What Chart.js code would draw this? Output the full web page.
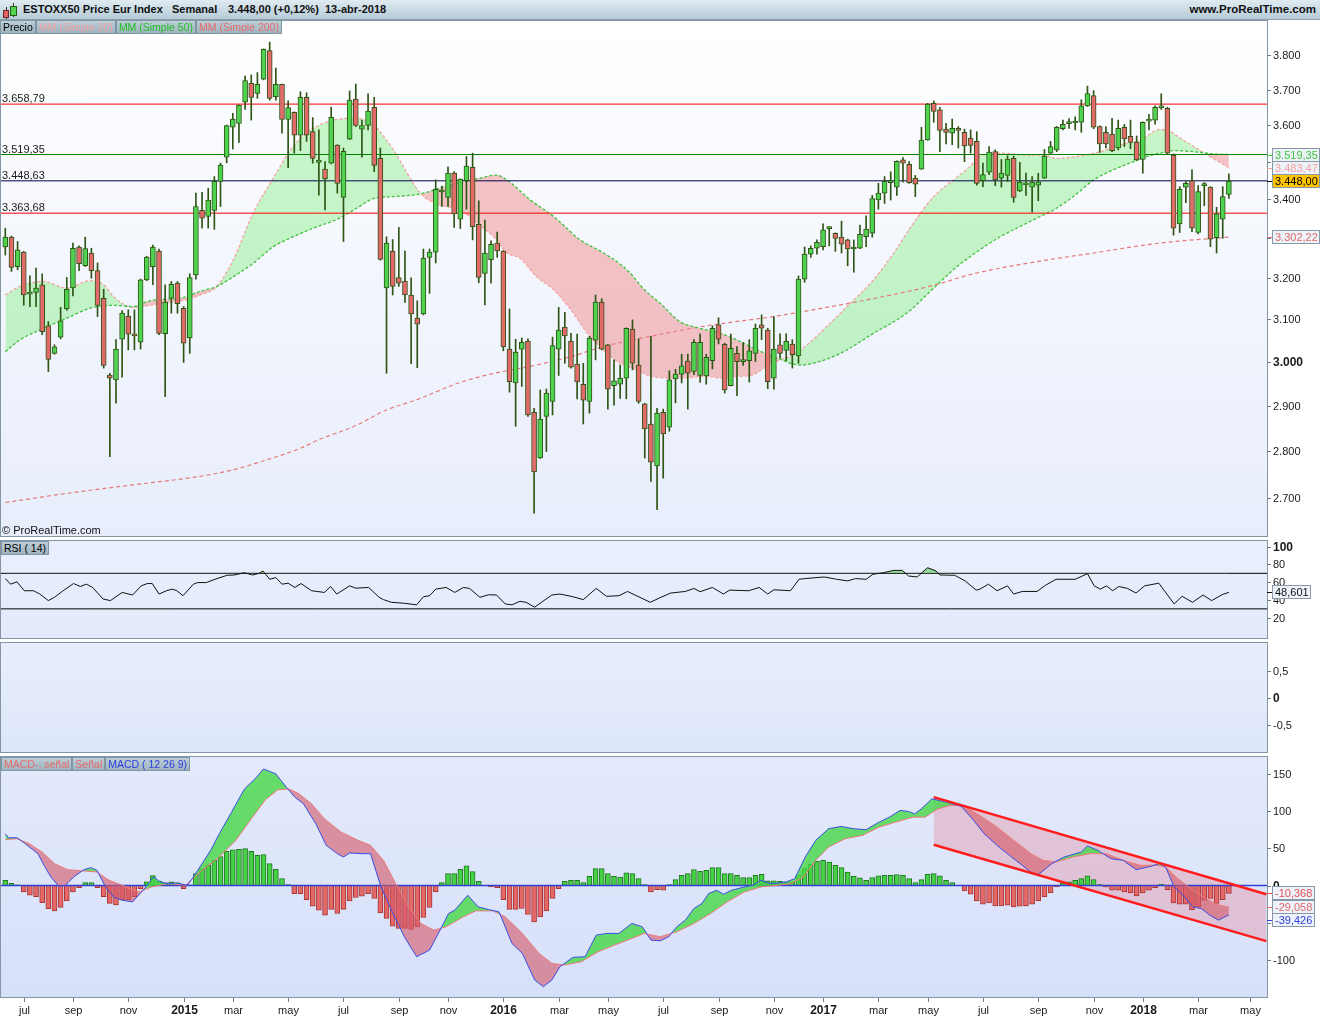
<!DOCTYPE html>
<html lang="es">
<head>
<meta charset="utf-8">
<title>ESTOXX50 semanal</title>
<script src="https://cdn.jsdelivr.net/npm/chart.js@4.4.1/dist/chart.umd.min.js"></script>
<style>
  html, body { margin: 0; padding: 0; background: #fff; }
  #page { position: relative; width: 1320px; height: 1020px; overflow: hidden; font-family: "Liberation Sans", Arial, sans-serif; }
  canvas { position: absolute; left: 0; }
  #titlebar { position: absolute; left: 0; top: 0; width: 1320px; height: 20px; box-sizing: border-box;
    background: linear-gradient(#e0ebf1, #b5cbd7); border-bottom: 1px solid #8b9ea9; }
  #titlebar span { position: absolute; top: 3px; font-size: 11px; font-weight: bold; color: #111; white-space: nowrap; }
  .row { position: absolute; left: 0; display: flex; z-index: 2; }
  .tag { height: 14px; line-height: 13px; font-size: 10.5px; padding: 0 2px; box-sizing: border-box;
    background: linear-gradient(#bdcfd8, #9db4c0); border: 1px solid #7f96a3; white-space: nowrap; }
  .ico { position: absolute; box-sizing: border-box; }
  #copy { position: absolute; left: 2px; top: 524px; font-size: 11px; color: #111; z-index: 2; }
</style>
</head>
<body>
<div id="page">
  <canvas id="main" width="1320" height="517" style="top:20px"></canvas>
  <canvas id="rsi" width="1320" height="99" style="top:540px"></canvas>
  <canvas id="blank" width="1320" height="111" style="top:642px"></canvas>
  <canvas id="macd" width="1320" height="264" style="top:756px"></canvas>

  <div id="titlebar">
    <div class="ico" style="left:6px;top:7px;width:1px;height:12px;background:#333"></div>
    <div class="ico" style="left:3px;top:10px;width:6px;height:8px;background:#e25f5f;border:1px solid #6b2a2a"></div>
    <div class="ico" style="left:13px;top:3px;width:1px;height:14px;background:#333"></div>
    <div class="ico" style="left:10px;top:6px;width:7px;height:10px;background:#52d352;border:1px solid #2b5a15"></div>
    <span style="left:23px">ESTOXX50 Price Eur Index</span>
    <span style="left:172px">Semanal</span>
    <span style="left:228px">3.448,00 (+0,12%)</span>
    <span style="left:325px">13-abr-2018</span>
    <span style="right:4px;font-size:11.5px">www.ProRealTime.com</span>
  </div>
  <div class="row" style="top:20px">
    <div class="tag" style="color:#000">Precio</div>
    <div class="tag" style="color:#f4a3a3">MM (Simple 20)</div>
    <div class="tag" style="color:#1fbf1f">MM (Simple 50)</div>
    <div class="tag" style="color:#e86a6a">MM (Simple 200)</div>
  </div>
  <div id="copy">© ProRealTime.com</div>
  <div class="row" style="top:541px;left:1px">
    <div class="tag" style="color:#000">RSI ( 14)</div>
  </div>
  <div class="row" style="top:757px;left:1px">
    <div class="tag" style="color:#e46a6a">MACD-, señal</div>
    <div class="tag" style="color:#e46a6a">Señal</div>
    <div class="tag" style="color:#2c3de0">MACD ( 12 26 9)</div>
  </div>
</div>

<script>
// ---- weekly candles, June 2014 .. 13 Apr 2018 (one entry per week)
const opens = [
  3277,3302,3228,3264,3160,3164,3183,3084,3019,3057, 3124,3175,3277,3230,3262,3218,3150,2969,2958,3052,
  3107,3062,3045,3195,3228,3267,3065,3150,3187,3126, 3055,3207,3371,3355,3371,3447,3512,3594,3605,3664,
  3718,3689,3730,3813,3680,3715,3616,3636,3572,3678, 3582,3498,3480,3496,3545,3405,3561,3673,3589,3599,
  3650,3509,3175,3267,3201,3192,3158,3102,3112,3251, 3264,3419,3405,3469,3348,3449,3485,3335,3211,3245,
  3287,3267,3029,2951,3029,3048,2885,2785,2876,2909, 3029,3081,3048,2994,2948,2909,3050,3141,3039,2945,
  2948,2962,3076,2992,2904,2859,2768,2885,2852,2960, 2971,3001,2977,2968,2967,3002,3086,3040,2945,3019,
  3000,3002,3019,3086,3074,2962,3039,3026,3041,3013, 3197,3259,3274,3278,3324,3312,3302,3295,3272,3274,
  3303,3312,3398,3416,3444,3432,3505,3493,3456,3480, 3559,3661,3643,3589,3578,3591,3580,3564,3555,3449,
  3472,3527,3456,3463,3509,3422,3438,3432,3437,3456, 3523,3532,3590,3604,3606,3608,3654,3683,3596,3580,
  3575,3537,3594,3569,3553,3506,3611,3614,3648,3647, 3518,3336,3432,3449,3314,3436,3432,3301,3348,3413
];
const highs = [
  3325,3305,3291,3266,3205,3224,3210,3094,3039,3128, 3201,3287,3280,3302,3274,3237,3172,2973,3051,3120,
  3122,3122,3197,3254,3282,3272,3183,3191,3191,3130, 3210,3416,3418,3429,3460,3496,3600,3633,3657,3739,
  3742,3749,3818,3838,3762,3716,3668,3637,3694,3691, 3621,3587,3500,3650,3546,3537,3696,3716,3614,3688,
  3678,3537,3303,3296,3327,3267,3200,3144,3272,3272, 3451,3435,3486,3473,3454,3514,3523,3396,3346,3293,
  3315,3268,3124,3052,3055,3053,2894,2935,2937,3057, 3128,3116,3066,3064,2996,3059,3158,3149,3040,3004,
  2992,3079,3098,3053,2905,3059,2894,2892,2979,2982, 3017,3017,3051,3065,3017,3084,3103,3043,3064,3035,
  3044,3051,3088,3110,3078,3106,3065,3065,3051,3205, 3277,3280,3295,3336,3329,3313,3343,3297,3295,3333,
  3357,3410,3442,3460,3473,3502,3511,3500,3463,3594, 3661,3668,3650,3605,3617,3596,3589,3587,3582,3496,
  3541,3532,3506,3516,3515,3498,3469,3460,3469,3533, 3555,3596,3614,3618,3623,3671,3710,3697,3598,3596,
  3619,3614,3602,3614,3570,3609,3630,3654,3688,3650, 3521,3433,3447,3478,3436,3444,3433,3379,3433,3467
];
const lows = [
  3257,3216,3220,3133,3130,3130,3063,2977,3017,3053, 3121,3156,3218,3228,3199,3106,2985,2788,2905,2964,
  3027,3027,3029,3193,3183,3063,2920,3114,3114,2998, 3019,3197,3325,3325,3322,3381,3497,3534,3552,3644,
  3614,3675,3728,3670,3670,3578,3484,3523,3530,3555, 3496,3411,3372,3494,3416,3291,3560,3596,3512,3587,
  3473,3244,2973,3158,3179,3140,2995,2986,3110,3162, 3237,3381,3381,3327,3324,3374,3295,3188,3134,3187,
  3251,3025,2930,2854,2943,2876,2669,2784,2799,2879, 2968,2996,2985,2915,2859,2883,3004,3027,2892,2901,
  2916,2915,2981,2905,2785,2735,2676,2742,2843,2906, 2951,2892,2970,2952,2948,2983,3041,2928,2944,2922,
  2991,2953,3000,3051,2938,2937,3008,3002,2985,2996, 3189,3251,3259,3270,3280,3266,3262,3230,3214,3273,
  3278,3302,3374,3389,3398,3410,3445,3442,3407,3479, 3558,3608,3527,3548,3546,3537,3500,3523,3437,3433,
  3465,3436,3432,3447,3392,3420,3410,3366,3396,3455, 3522,3527,3587,3591,3587,3580,3652,3590,3525,3537,
  3527,3532,3541,3535,3503,3469,3587,3603,3644,3521, 3307,3314,3391,3316,3310,3383,3278,3262,3299,3402
];
const closes = [
  3302,3226,3270,3158,3165,3175,3070,3005,3034,3096, 3172,3274,3235,3273,3218,3133,2991,2962,3029,3114,
  3064,3060,3195,3252,3277,3066,3141,3184,3137,3043, 3201,3381,3351,3398,3447,3491,3599,3617,3656,3726,
  3678,3715,3817,3675,3715,3616,3649,3572,3678,3572, 3509,3504,3454,3622,3442,3528,3670,3599,3599,3639,
  3490,3246,3287,3179,3187,3158,3112,3088,3249,3264, 3426,3420,3469,3362,3453,3488,3329,3201,3262,3284,
  3267,3034,2954,3022,3045,2879,2755,2870,2928,3037, 3074,3060,2987,2953,2912,3055,3141,3029,2937,2956,
  2962,3078,2996,2909,2848,2776,2883,2837,2958,2971, 2990,2973,3045,3045,3010,3078,3052,2935,3031,3000,
  3001,3025,3078,3078,2954,3029,3019,3047,3016,3197, 3259,3274,3289,3321,3326,3299,3284,3272,3274,3309,
  3323,3402,3416,3447,3445,3501,3496,3444,3440,3559, 3659,3638,3585,3580,3591,3585,3543,3544,3442,3465,
  3526,3451,3469,3507,3405,3445,3439,3445,3446,3515, 3541,3594,3602,3605,3607,3654,3689,3594,3548,3548,
  3530,3591,3562,3552,3505,3608,3614,3650,3649,3523, 3325,3426,3442,3325,3420,3437,3297,3362,3407,3448
];

// ---- moving averages (week index, value)
const ma20Weeks = [0,2.4,6.2,10,13.8,16,17.6,20.8,23.5,29,31.7,34.4,37.1,40.3,43.6,46.8,50.1,54.4,57.2,59.9,
  63.1,67.5,70.7,74,76.7,79.4,81.6,83.7,86.4,89.2,92.4,94.6,97.3,100,102.7,105,109.7,114.1,116.3,119.5,
  121.7,123.8,126,128.2,130.4,133.6,136.9,141.2,144.5,147.7,151,154.2,156.9,158.5,161.8,166.1,168.8,171,174.3,178.1,
  181.3,184.6,187.8,189.5,191,193.3,195,197,199];
const ma20Values = [3158,3179,3191,3175,3193,3183,3154,3128,3133,3145,3158,3179,3245,3364,3456,3541,3591,3617,3619,3600,
  3532,3416,3385,3372,3338,3303,3262,3249,3203,3171,3114,3067,3027,2996,2981,2966,2962,2966,2962,2966,
  2970,2989,3004,3016,3039,3082,3130,3195,3262,3338,3407,3451,3487,3514,3523,3518,3518,3509,3514,3527,
  3545,3559,3588,3582,3565,3541,3523,3503,3483.47];
const ma50Weeks = [0,2.4,6.2,10,13.8,17.6,20.8,23.5,29,31.7,34.4,37.1,40.3,43.6,46.8,50.1,54.4,57.2,59.9,63.1,
  67.5,71.8,77.2,79.9,81.6,85.4,89.2,93.5,97.3,101.1,104,106.5,109.7,113,116.3,119.5,121.7,124.9,129.3,131.4,
  135.8,141.2,146.6,151,154.8,158.5,161.8,165,168.3,170.5,173.7,177,180.2,183.5,185.7,187.8,190,193.3,196.5,199];
const ma50Values = [3023,3051,3078,3102,3126,3133,3130,3144,3152,3167,3179,3203,3236,3278,3303,3325,3351,3377,3402,3407,
  3414,3435,3456,3464,3451,3398,3355,3295,3262,3220,3170,3138,3094,3078,3066,3047,3031,3012,2992,2996,
  3019,3066,3114,3175,3228,3270,3303,3329,3355,3372,3407,3451,3478,3500,3514,3523,3530,3527,3521,3519.35];
const ma200Weeks = [0,10,20.8,31.7,37.1,42.5,48,51.2,56.6,62,67.5,72.9,78.3,86.4,91.9,97.3,104.9,114.1,124.9,135.8,
  146.6,152,156.9,166.1,177,187.8,199];
const ma200Values = [2691,2710,2728,2746,2760,2781,2806,2826,2853,2890,2916,2947,2969,2992,3011,3035,3059,3084,3106,3134,
  3166,3186,3208,3236,3262,3287,3302.22];

// ---- horizontal levels drawn on the price panel
const levelValues = [3658.79, 3519.35, 3448.63, 3363.68];

// ---- RSI(14)
const rsiWeeks = [0,0.85,1.9,3.1,4.6,5.6,7,8,9.4,11.1,12.2,13.2,14.2,15.9,17.1,19,20.7,22.1,23.1,23.9,
  25,26.2,27.2,27.9,28.9,30.6,31.3,32.7,34.1,36.1,37.2,38.9,40.2,41.3,41.9,43,44,45,46,47.1,
  48.1,49.8,51.9,52.9,53.9,56,57,59.1,60.8,61.5,62.8,64.9,66.9,68,69,70,71.7,73.1,74.5,75.5,
  77.2,78.6,79.9,81.3,82.4,83.7,84.7,86.1,87.2,88.9,90.2,92.3,94,96.1,97.8,99.8,101.2,104.9,106.4,108.2,
  110.6,112,113,115,116.8,117.8,120.9,122.6,124,125,127.7,129.1,130.1,133.2,135.2,137,138.3,140,141.1,142.8,
  144.5,145.9,146.9,148.3,150,151.4,152,154.4,156.1,157.9,158.5,159.9,161.3,163,164,165.4,167.8,169.2,170.9,174,
  176,177.1,178.1,179.1,180.1,181.1,182.5,183.9,185.3,187.6,190.1,191.4,193.1,194.8,196.2,197.9,199];
const rsiValues = [64.1,57.8,60.4,50.4,50.4,46.7,39.3,43,50.4,58.5,55.2,57.8,54.1,41.1,39.3,48.5,45.6,55.9,58.5,58.5,
  46.7,50.4,52.2,50.4,44.8,57.8,59.6,59.6,63.3,67.8,68.1,70.7,68.1,70,72.6,63.3,65.2,57.8,58.9,54.1,
  58.5,50.4,48.5,55.2,46.7,55.9,53.3,54.1,43,40.4,37.4,36.3,34.5,43.7,44.8,52.2,54.1,48.5,54.1,53,
  43,45.9,45.6,35.6,34.5,38.5,37.4,31.9,37.4,45.6,46.7,43.7,40.4,53,44.1,44.8,49.6,37.4,42.3,47.8,
  49.6,53,49.3,54.1,46.7,51.1,50.4,54.1,46.7,51.5,50.4,63.3,64.1,65.9,63.3,61.5,64.1,63.3,68.9,70.7,
  73.3,73.3,67,65.9,76.3,72.6,68.1,67.8,61.5,51.1,52.2,57.8,50.4,55.9,46.7,49.6,49.6,56.7,63.3,63.3,
  69.6,55.9,52.2,55.9,50.4,55.2,53,47.8,55.9,58.9,35.6,44.1,37.4,45.6,39.3,46,48.601];
const rsiBands = [70, 30];

// ---- MACD (12 26 9)
const macdWeeks = [0,0.5,1.9,3.25,5.3,6.3,7.4,8.7,9.8,11.1,12.8,13.9,14.9,16.3,17.6,19,20.7,22.4,24.1,25.2,
  26.5,27.9,29.6,30.6,33.4,34.8,36.8,38.9,40.6,42,44,45.7,47.1,48.5,50.5,52.2,54,55,56,58,
  59.4,61.1,62.8,64.9,66.9,69,70.7,72.1,73.1,74.5,75.2,76.9,78.6,80.3,82.4,84.1,86.1,87.5,88.9,90.2,
  92.3,94.3,96.1,97.8,99.8,101.9,103.6,105,106.5,107.9,109.2,110.6,112,113.3,114.4,115.7,116.8,118.1,120.2,121.6,
  122.9,124,125,127,128.4,130.1,131.8,133.9,135.9,138,140,142.1,143.8,145.5,146.9,147.9,149,150.7,153.1,155.5,
  157.5,159.2,161.3,163.3,165.4,167.1,168.1,170.2,172.2,175,176,177.7,179.8,181.8,183.9,185.9,187.7,188.7,190.1,191.8,
  193.1,194.5,195.9,197.3,199];
const macdValues = [69.7,64.3,64.3,56.3,42.9,27.3,11.6,-0.9,0.4,11.6,21.4,24.1,20.6,-1.8,-15.2,-19.7,-21.9,-6.3,11.6,4.9,
  2.7,3.6,0.4,11.6,47.4,69.7,98.7,130,143.4,156.8,150.1,132.3,118.9,109.9,83.1,54.1,42.9,38.4,43.8,42.9,
  42.9,-1.8,-33.1,-68.8,-95.6,-86.7,-59.9,-37.5,-33.1,-19.7,-13,-28.6,-32.2,-35.3,-77.7,-91.2,-126.9,-135.8,-126.9,-109,
  -96.5,-95.6,-66.6,-64.3,-64.3,-50.9,-55.4,-73.3,-74.2,-68.8,-55.4,-46.5,-30.8,-24.1,-10.7,-6.3,-11.6,-6.3,-1.8,0.4,
  7.1,3.6,2.7,4.9,9.4,38.4,60.8,76.4,79.5,76.4,75.1,85.3,92,101,99.6,96.5,103.2,116.6,112.2,106.3,
  87.6,69.7,54.1,40.7,27.3,16.1,15.2,29.5,38.4,45.1,53.2,47.4,36.2,34,21.4,25,29.5,25,-1.8,-15.2,
  -28.6,-30.8,-39.8,-46.5,-39.426];
const signalWeeks = [0,1.9,3.9,6,8,10.1,12.8,14.9,16.9,19.7,21.7,23.8,26.5,29.3,32,34.8,37.5,40.2,42.3,44.3,
  46.1,47.8,49.8,51.9,54.6,57.4,59.4,61.5,63.5,65.6,67.6,69.7,71.7,74.5,76.5,79.3,81.3,84.1,86.8,88.9,
  90.9,93.7,96.4,99.1,101.9,103.9,106.5,109.2,112,114.7,117.4,120.2,122.9,125.7,127.7,129.8,131.8,133.9,136.6,139.4,
  142.1,144.8,147.6,149.6,151.7,153.7,155.8,158.5,161.3,164,166.8,168.8,170.9,173.6,176.4,179.1,181.8,184.6,187.3,188.7,
  190.7,192.8,194.8,196.9,199];
const signalValues = [61.7,63,56.3,45.1,29.5,21.4,19.7,18.3,7.1,-1.8,-8.5,-1.8,2.7,0.4,20.6,38.4,60.8,92,115.3,128.7,
  130,123.3,109.9,89.8,71.9,60.8,54.1,34,2.7,-28.6,-50.9,-59.9,-55.4,-42,-34,-34,-42,-64.3,-91.2,-104.6,
  -106.8,-102.3,-88.9,-80,-71,-64.3,-68.8,-62.1,-50.9,-37.5,-21.9,-8.5,-1.8,0.4,2.7,11.6,34,51.8,63,67.5,
  78.6,85.3,92,92,103.2,107.7,107.7,94.3,78.6,60.8,42.9,34,31.7,38.4,42.9,42.9,34,27.3,27.3,25,
  9.4,-4,-15.2,-25,-29.058];
const histValues = [
  7,3,1,-8.5,-13,-15,-23,-31,-34,-29.5, -20.5,-8.5,-2.7,4,4,-2.7,-15,-24,-26,-19,
  -19,-15,-4,5,13.4,6,3.6,5,3.6,-4, 1,16,23,28,34,39,46,48,48.7,49.6,
  46,40.7,41.6,29.5,21.9,9.4,1.3,-10.7,-10.7,-18.8, -27.7,-33,-39.8,-32,-37.5,-32,-20.5,-16,-14.3,-10.7,
  -17.4,-36.6,-44.2,-54.5,-57.6,-57.6,-59,-55.4,-42.9,-29.5, -8.5,4,16,16,21.9,26.4,18.8,5.8,0,-1.8,
  -2.7,-18.8,-32,-32,-30.8,-38.9,-48.7,-42,-34,-17.4, -4,5.8,7.1,7.1,4,12.5,22.8,22.8,16,12.5,
  11.6,17,16,9.4,1.3,-8.5,-5.4,-6.3,1.3,8, 13.9,16,21.4,19.2,20.5,24.1,24.1,16,16,13.9,
  10.7,10.7,13.9,15.2,6.3,6.3,5.8,4.9,4.9,13.9, 22.8,28.6,32.6,34,31.7,27.3,24.1,18.3,12.5,10.3,
  7.1,10.7,13,13.9,13.9,14.7,13.9,9.4,4,8, 15.2,16,13,7.1,4,0,-7.1,-11.6,-20.5,-25,
  -23.2,-27.3,-27.3,-26.4,-28.6,-27.7,-27.3,-25,-20.5,-15.2, -9.8,-1.8,3.6,4.9,7.1,9.4,13,8,1.3,-1.8,
  -6.3,-6.3,-8.5,-9.8,-13.9,-9.8,-6.3,-2.7,1.8,-5.4, -23.2,-25,-25,-32.2,-28.6,-19.7,-17.4,-24.1,-18.8,-10.368
];
// descending channel drawn on the MACD panel
const channelWeeks = [151, 205.1];
const channelUpper = [118.9, -11.6];
const channelLower = [55, -74.6];

// ---- axis ticks
const priceTicks = [3800, 3700, 3600, 3500, 3400, 3300, 3200, 3100, 3000, 2900, 2800, 2700];
const rsiTicks = [100, 80, 60, 40, 20];
const blankTicks = [0.5, 0, -0.5];
const macdTicks = [150, 100, 50, 0, -50, -100];
const monthLabels = ['jul','sep','nov','2015','mar','may','jul','sep','nov','2016','mar','may',
  'jul','sep','nov','2017','mar','may','jul','sep','nov','2018','mar','may'];
const monthWeeks = [3,11,20,29,37,46,55,64,72,81,90,98,107,116,125,133,142,150,159,168,177,185,194,202.5];

// ---------------------------------------------------------------
const X_MIN = -0.7, X_MAX = 205.2;
const FONT = '"Liberation Sans", Arial, sans-serif';
Chart.defaults.font.family = FONT;

const weeks = closes.map((_, i) => i);
const pts = (xs, ys) => xs.map((x, i) => ({ x, y: ys[i] }));
const hline = v => [{ x: X_MIN, y: v }, { x: X_MAX, y: v }];
const last = a => a[a.length - 1];

function fmtNum(v, dec) {
  const neg = v < 0;
  const parts = Math.abs(v).toFixed(dec).split('.');
  const int = parts[0].replace(/\B(?=(\d{3})+(?!\d))/g, '.');
  return (neg ? '-' : '') + int + (parts[1] ? ',' + parts[1] : '');
}

const levelColors = ['#ff0000', '#008000', '#00004a', '#ff0000'];

const panels = {
  main: {
    bg: ['#ffffff', '#e7edfb'], ticks: priceTicks, bold: 3000, fmt: v => fmtNum(v, 0), levels: levelValues,
    boxes: [
      { value: last(ma50Values), text: fmtNum(last(ma50Values), 2), color: '#3cc43c', bg: '#eef3f9' },
      { value: last(ma20Values), text: fmtNum(last(ma20Values), 2), color: '#f3a0a0', bg: '#eef3f9' },
      { value: last(closes), text: fmtNum(last(closes), 2), color: '#000', bg: '#ffc400' },
      { value: last(ma200Values), text: fmtNum(last(ma200Values), 2), color: '#e06868', bg: '#eef3f9' }
    ]
  },
  rsi: {
    bg: ['#e9effc', '#e3eafb'], ticks: rsiTicks, bold: 100, fmt: v => String(v),
    boxes: [{ value: last(rsiValues), text: fmtNum(last(rsiValues), 3), color: '#111', bg: '#eef3fb' }]
  },
  blank: { bg: ['#e8eefc', '#dde6fa'], ticks: blankTicks, bold: 0, fmt: v => String(v).replace('.', ',') },
  macd: {
    bg: ['#e4eafc', '#d6e0f9'], ticks: macdTicks, bold: 0, fmt: v => String(v), xAxis: true,
    boxes: [
      { value: last(histValues), text: fmtNum(last(histValues), 3), color: '#e05252', bg: '#eef2fb' },
      { value: last(signalValues), text: fmtNum(last(signalValues), 3), color: '#e06a6a', bg: '#eef2fb' },
      { value: last(macdValues), text: fmtNum(last(macdValues), 3), color: '#2f40e0', bg: '#eef2fb' }
    ]
  }
};

// panel background, frame, right axis, value boxes, bottom axis
const panelPlugin = {
  id: 'panelFrame',
  beforeDraw(chart) {
    const st = panels[chart.canvas.id];
    const { ctx, chartArea: a } = chart;
    const g = ctx.createLinearGradient(0, a.top, 0, a.bottom);
    g.addColorStop(0, st.bg[0]);
    g.addColorStop(1, st.bg[1]);
    ctx.save();
    ctx.fillStyle = g;
    ctx.fillRect(a.left, a.top, a.right - a.left, a.bottom - a.top);
    ctx.restore();
  },
  afterDraw(chart) {
    const st = panels[chart.canvas.id];
    const { ctx, chartArea: a, scales } = chart;
    const ys = scales.y;
    ctx.save();
    ctx.strokeStyle = '#8496a3';
    ctx.lineWidth = 1;
    ctx.strokeRect(a.left - 0.5, a.top + 0.5, a.right - a.left + 1, a.bottom - a.top - 1);
    ctx.textBaseline = 'middle';

    st.ticks.forEach(v => {
      const py = Math.round(ys.getPixelForValue(v)) + 0.5;
      ctx.strokeStyle = '#6f7f8b';
      ctx.beginPath(); ctx.moveTo(a.right, py); ctx.lineTo(a.right + 4, py); ctx.stroke();
      ctx.font = (st.bold === v ? 'bold 12px ' : '11px ') + FONT;
      ctx.fillStyle = '#1a1a1a';
      ctx.fillText(st.fmt(v), a.right + 6, py);
    });

    (st.levels || []).forEach(v => {
      ctx.font = '11px ' + FONT;
      ctx.fillStyle = '#1a1a1a';
      ctx.fillText(fmtNum(v, 2), a.left + 1, ys.getPixelForValue(v) - 5);
    });

    let prev = -Infinity;
    (st.boxes || []).map(b => Object.assign({ py: ys.getPixelForValue(b.value) }, b))
      .sort((p, q) => p.py - q.py)
      .forEach(b => {
        const cy = Math.round(Math.max(b.py, prev + 13));
        prev = cy;
        ctx.font = '11px ' + FONT;
        const w = Math.ceil(ctx.measureText(b.text).width) + 5;
        ctx.strokeStyle = b.color;
        ctx.beginPath(); ctx.moveTo(a.right, cy + 0.5); ctx.lineTo(a.right + 5, cy + 0.5); ctx.stroke();
        ctx.fillStyle = b.bg;
        ctx.fillRect(a.right + 5, cy - 7, w, 14);
        ctx.strokeStyle = '#8898a6';
        ctx.strokeRect(a.right + 5.5, cy - 6.5, w - 1, 13);
        ctx.fillStyle = b.color;
        ctx.fillText(b.text, a.right + 8, cy + 0.5);
      });

    if (st.xAxis) {
      const xs = scales.x;
      ctx.textAlign = 'center';
      monthWeeks.forEach((w, i) => {
        const px = Math.round(xs.getPixelForValue(w)) + 0.5;
        ctx.strokeStyle = '#6f7f8b';
        ctx.beginPath(); ctx.moveTo(px, a.bottom); ctx.lineTo(px, a.bottom + 4); ctx.stroke();
        const isYear = /^\d{4}$/.test(monthLabels[i]);
        ctx.font = (isYear ? 'bold 12px ' : '11px ') + FONT;
        ctx.fillStyle = '#1a1a1a';
        ctx.fillText(monthLabels[i], px, a.bottom + 13);
      });
    }
    ctx.restore();
  }
};
Chart.register(panelPlugin);

function baseOptions(yScale, padding) {
  return {
    responsive: false,
    animation: false,
    events: [],
    layout: { padding },
    plugins: { legend: { display: false }, tooltip: { enabled: false } },
    elements: { point: { radius: 0 }, line: { tension: 0 } },
    scales: {
      x: { type: 'linear', min: X_MIN, max: X_MAX, bounds: 'data', offset: false, display: false },
      y: Object.assign({ display: false, bounds: 'data' }, yScale)
    }
  };
}
const PAD = { left: 1, right: 53, top: 0, bottom: 0 };

// price panel
new Chart(document.getElementById('main'), {
  type: 'line',
  data: {
    datasets: [
      { data: pts(ma50Weeks, ma50Values), borderColor: '#3cc43c', borderWidth: 1.3, borderDash: [3, 2],
        cubicInterpolationMode: 'monotone', order: 5 },
      { data: pts(ma20Weeks, ma20Values), borderColor: '#f5a3a3', borderWidth: 1.3, borderDash: [3, 2],
        cubicInterpolationMode: 'monotone', order: 5 },
      { data: pts(ma20Weeks, ma20Values), borderWidth: 0, cubicInterpolationMode: 'monotone', order: 9,
        fill: { target: 0, above: 'rgba(150,240,150,0.52)', below: 'rgba(240,140,140,0.5)' } },
      { data: pts(ma200Weeks, ma200Values), borderColor: '#e67a7a', borderWidth: 1.2, borderDash: [4, 3],
        cubicInterpolationMode: 'monotone', order: 5 },
      ...levelValues.map((v, i) => ({ data: hline(v), borderColor: levelColors[i], borderWidth: 1, order: 4 })),
      { type: 'bar', data: weeks.map(i => ({ x: i, y: [lows[i], highs[i]] })), backgroundColor: '#2e5514',
        barThickness: 1, grouped: false, order: 3 },
      { type: 'bar', data: weeks.map(i => ({ x: i, y: [opens[i], closes[i]] })),
        backgroundColor: weeks.map(i => closes[i] >= opens[i] ? '#4fd24f' : '#e36a6a'),
        borderColor: '#2e5514', borderWidth: 1, borderSkipped: false, barThickness: 5, minBarLength: 2,
        grouped: false, order: 2 }
    ]
  },
  options: baseOptions({ type: 'logarithmic', min: 2620.4, max: 3904 }, PAD)
});

// RSI panel
new Chart(document.getElementById('rsi'), {
  type: 'line',
  data: {
    datasets: [
      { data: pts(rsiWeeks, rsiValues), borderColor: '#111', borderWidth: 1, order: 1,
        fill: { target: { value: rsiBands[0] }, above: 'rgba(120,210,120,0.75)', below: 'rgba(0,0,0,0)' } },
      ...rsiBands.map(v => ({ data: hline(v), borderColor: '#000', borderWidth: 1, order: 2 }))
    ]
  },
  options: baseOptions({ type: 'linear', min: -3.9, max: 107.5 }, PAD)
});

// empty indicator panel
new Chart(document.getElementById('blank'), {
  type: 'line',
  data: { datasets: [] },
  options: baseOptions({ type: 'linear', min: -1.018, max: 1.037 }, PAD)
});

// MACD panel
new Chart(document.getElementById('macd'), {
  type: 'line',
  data: {
    datasets: [
      { data: pts(channelWeeks, channelUpper), borderWidth: 0, fill: 1, backgroundColor: 'rgba(226,160,178,0.5)', order: 10 },
      { data: pts(channelWeeks, channelLower), borderWidth: 0, order: 10 },
      { type: 'bar', data: weeks.map(i => ({ x: i, y: histValues[i] })),
        backgroundColor: histValues.map(v => v >= 0 ? '#45d045' : '#e46868'),
        borderColor: histValues.map(v => v >= 0 ? '#1f7a1f' : '#a83434'),
        borderWidth: 1, barThickness: 5, grouped: false, order: 8 },
      { data: hline(0), borderColor: '#3040d0', borderWidth: 1.5, order: 7 },
      { data: pts(signalWeeks, signalValues), borderColor: '#f07a7a', borderWidth: 1, order: 3 },
      { data: pts(macdWeeks, macdValues), borderColor: '#3a4ee6', borderWidth: 1, order: 2 },
      { data: pts(macdWeeks, macdValues), borderWidth: 0, order: 6,
        fill: { target: 4, above: 'rgba(70,215,70,0.8)', below: 'rgba(212,90,105,0.62)' } },
      { data: pts(channelWeeks, channelUpper), borderColor: '#ff1c1c', borderWidth: 2.5, order: 1 },
      { data: pts(channelWeeks, channelLower), borderColor: '#ff1c1c', borderWidth: 2.5, order: 1 }
    ]
  },
  options: baseOptions({ type: 'linear', min: -151.1, max: 174.2 }, { left: 1, right: 53, top: 0, bottom: 22 })
});
</script>
</body>
</html>
